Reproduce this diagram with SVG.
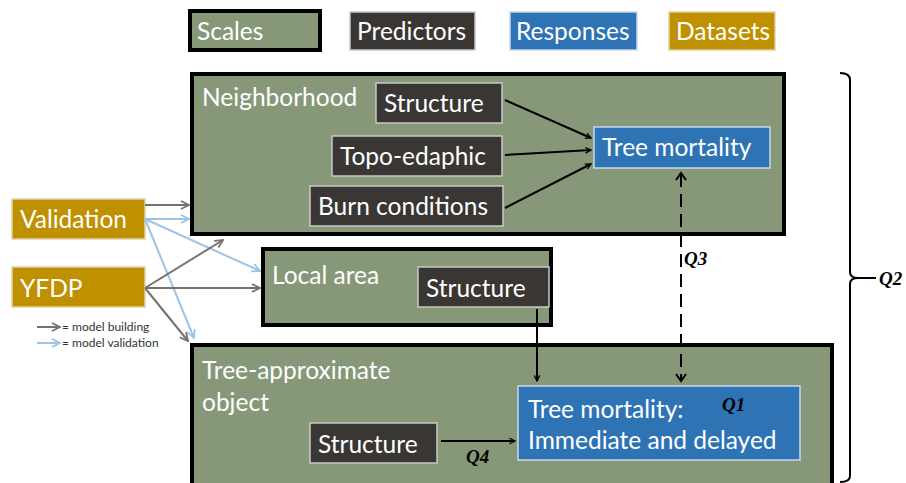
<svg xmlns="http://www.w3.org/2000/svg" width="906" height="483" viewBox="0 0 906 483">
<style>
text{font-family:Lato,"Open Sans","DejaVu Sans",sans-serif;fill:#fff}
.t{font-size:24.5px}
.q{font-family:"Liberation Serif","DejaVu Serif",serif;font-style:italic;font-weight:bold;font-size:19px;fill:#000}
.scale{fill:#879878;stroke:#000;stroke-width:4}
.pred{fill:#3a3633;stroke:#c8c8c8;stroke-width:1.5}
.resp{fill:#2e74b5;stroke:#c8d8ea;stroke-width:1.5}
.data{fill:#bf9000;stroke:#e0d2a8;stroke-width:1.5}
.k{stroke:#000;stroke-width:2;fill:none}
.g{stroke:#767171;stroke-width:2;fill:none}
.b{stroke:#9dc3e6;stroke-width:2;fill:none}
.sm{font-size:12px;fill:#333}
</style>
<defs>
<marker id="ak" viewBox="0 0 10 10" refX="9" refY="5" markerWidth="7" markerHeight="7" orient="auto" markerUnits="userSpaceOnUse"><path d="M1,1 L9,5 L1,9" fill="none" stroke="#000" stroke-width="1.8"/></marker>
<marker id="ag" viewBox="0 0 10 10" refX="9" refY="5" markerWidth="10" markerHeight="10" orient="auto" markerUnits="userSpaceOnUse"><path d="M1,1 L9,5 L1,9" fill="none" stroke="#767171" stroke-width="1.8"/></marker>
<marker id="ab" viewBox="0 0 10 10" refX="9" refY="5" markerWidth="10" markerHeight="10" orient="auto" markerUnits="userSpaceOnUse"><path d="M1,1 L9,5 L1,9" fill="none" stroke="#9dc3e6" stroke-width="1.8"/></marker>
</defs>

<g id="legend">
<rect class="scale" x="190" y="11" width="130" height="39" stroke-width="2.5"/><text class="t" x="197" y="40">Scales</text>
<rect class="pred" x="350" y="12" width="125" height="38"/><text class="t" x="357" y="40">Predictors</text>
<rect class="resp" x="510" y="12" width="127" height="38"/><text class="t" x="516" y="40">Responses</text>
<rect class="data" x="669" y="12" width="106" height="38"/><text class="t" x="676" y="40">Datasets</text>
</g>

<g id="neighborhood">
<rect class="scale" x="192" y="74" width="592" height="160"/>
<text class="t" x="202" y="106">Neighborhood</text>
</g>
<g id="nb-structure"><rect class="pred" x="376" y="83" width="126" height="40"/><text class="t" x="384" y="112">Structure</text></g>
<g id="nb-topo"><rect class="pred" x="332" y="136" width="170" height="40"/><text class="t" x="340" y="165">Topo-edaphic</text></g>
<g id="nb-burn"><rect class="pred" x="310" y="186" width="193" height="40"/><text class="t" x="318" y="215">Burn conditions</text></g>
<g id="nb-mortality"><rect class="resp" x="594" y="127" width="176" height="41"/><text class="t" x="602" y="156">Tree mortality</text></g>

<g id="local">
<rect class="scale" x="263" y="249" width="288" height="76"/>
<text class="t" x="272" y="284">Local area</text>
</g>
<g id="local-structure"><rect class="pred" x="418" y="267" width="131" height="40"/><text class="t" x="426" y="297">Structure</text></g>

<g id="tree">
<rect class="scale" x="192" y="345" width="640" height="145"/>
<text class="t" x="202" y="379">Tree-approximate</text>
<text class="t" x="202" y="411">object</text>
</g>
<g id="tree-mortality"><rect class="resp" x="518" y="386" width="282" height="74"/>
<text class="t" x="528" y="418">Tree mortality:</text>
<text class="t" x="528" y="449">Immediate and delayed</text>
<text class="q" x="722" y="411">Q1</text></g>
<g id="tree-structure"><rect class="pred" x="310" y="423" width="127" height="40"/><text class="t" x="318" y="453">Structure</text></g>

<g id="validation"><rect class="data" x="12" y="199" width="133" height="40"/><text class="t" x="20" y="228">Validation</text></g>
<g id="yfdp"><rect class="data" x="12" y="267" width="133" height="40"/><text class="t" x="20" y="297">YFDP</text></g>

<g id="connectors">
<line class="k" x1="505" y1="100" x2="591" y2="138" marker-end="url(#ak)"/>
<line class="k" x1="505" y1="155" x2="591" y2="150" marker-end="url(#ak)"/>
<line class="k" x1="505" y1="208" x2="591" y2="164" marker-end="url(#ak)"/>
<line class="k" x1="537" y1="309" x2="537" y2="381" marker-end="url(#ak)"/>
<line class="k" x1="441" y1="441" x2="515" y2="441" marker-end="url(#ak)"/>
<line class="k" x1="681" y1="174" x2="681" y2="380" stroke-dasharray="13,7"/>
<path class="k" d="M676,180 L681,173 L686,180"/>
<path class="k" d="M676,374 L681,381 L686,374"/>
<line class="g" x1="145" y1="205" x2="189" y2="205" marker-end="url(#ag)"/>
<line class="b" x1="145" y1="219" x2="189" y2="219" marker-end="url(#ab)"/>
<line class="b" x1="145" y1="219" x2="260" y2="271" marker-end="url(#ab)"/>
<line class="b" x1="145" y1="219" x2="194" y2="338" marker-end="url(#ab)"/>
<line class="g" x1="145" y1="288" x2="223" y2="240" marker-end="url(#ag)"/>
<line class="g" x1="145" y1="288" x2="260" y2="288" marker-end="url(#ag)"/>
<line class="g" x1="145" y1="288" x2="188" y2="341" marker-end="url(#ag)"/>
<line class="g" x1="37" y1="327" x2="60" y2="327" marker-end="url(#ag)"/>
<line class="b" x1="37" y1="343" x2="60" y2="343" marker-end="url(#ab)"/>
<path class="k" d="M840,73 Q850,73 850,80 L850,272 Q850,278 858,278 L876,278 M858,278 Q850,278 850,284 L850,476 Q850,482 840,482"/>
</g>
<text class="sm" x="62" y="331">= model building</text>
<text class="sm" x="62" y="347">= model validation</text>
<text class="q" x="684" y="265">Q3</text>
<text class="q" x="879" y="285">Q2</text>
<text class="q" x="466" y="463">Q4</text>
</svg>
